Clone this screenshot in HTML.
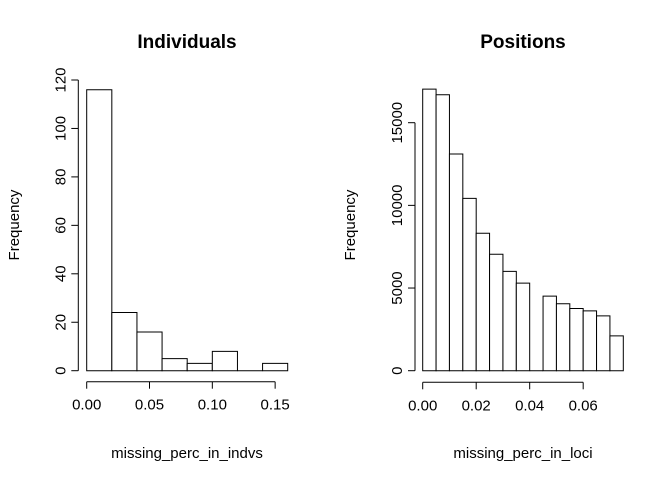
<!DOCTYPE html>
<html><head><meta charset="utf-8"><style>
body{margin:0;background:#fff}
svg{display:block;font-family:"Liberation Sans",Arial,sans-serif}
</style></head><body>
<svg id="c" width="672" height="480" viewBox="0 0 672 480">
<g id="p1"></g>
<g id="p2"></g>
</svg>
<script>
const indBinStart = 0, indBinWidth = 0.02;
const indCounts = [116, 24, 16, 5, 3, 8, 0, 3];
const indXTicks = [0, 0.05, 0.10, 0.15];
const indXTickLabels = ["0.00", "0.05", "0.10", "0.15"];
const indYTicks = [0, 20, 40, 60, 80, 100, 120];
const posBinStart = 0, posBinWidth = 0.005;
const posCounts = [17030, 16690, 13110, 10420, 8315, 7040, 6008, 5300, 0, 4510, 4046, 3763, 3621, 3318, 2104];
const posXTicks = [0, 0.02, 0.04, 0.06];
const posXTickLabels = ["0.00", "0.02", "0.04", "0.06"];
const posYTicks = [0, 5000, 10000, 15000];

const NS = "http://www.w3.org/2000/svg";
function mk(parent, tag, attrs, text) {
  const e = document.createElementNS(NS, tag);
  for (const k in attrs) e.setAttribute(k, attrs[k]);
  if (text !== undefined) e.textContent = text;
  parent.appendChild(e);
  return e;
}
function panel(g, cfg) {
  const x = v => cfg.x0 + (v - cfg.xmin) / (cfg.xmax - cfg.xmin) * (cfg.x1 - cfg.x0);
  const y = v => cfg.y0 - v / cfg.ymax * (cfg.y0 - cfg.y1);
  cfg.counts.forEach((c, i) => {
    const a = x(cfg.binStart + i * cfg.binWidth), b = x(cfg.binStart + (i + 1) * cfg.binWidth);
    const p = mk(g, "path", {d: `M${a},${y(0)}V${y(c)}H${b}V${y(0)}Z`, fill: "#fff", stroke: "#000", "stroke-width": 1});
    
    
  });
  const ax = cfg.axisY;
  const xa = mk(g, "g", {});
  
  
  mk(xa, "line", {x1: x(cfg.xTicks[0]), x2: x(cfg.xTicks[cfg.xTicks.length - 1]), y1: ax, y2: ax, stroke: "#000"});
  cfg.xTicks.forEach((t, i) => {
    mk(xa, "line", {x1: x(t), x2: x(t), y1: ax, y2: ax + 7, stroke: "#000"});
    const l = mk(xa, "text", {x: x(t), y: ax + 28, "text-anchor": "middle", "font-size": 15}, cfg.xLabels[i]);
    
    
  });
  const ya = mk(g, "g", {});
  
  
  const axx = cfg.axisX;
  mk(ya, "line", {x1: axx, x2: axx, y1: y(cfg.yTicks[0]), y2: y(cfg.yTicks[cfg.yTicks.length - 1]), stroke: "#000"});
  cfg.yTicks.forEach(t => {
    mk(ya, "line", {x1: axx, x2: axx - 7, y1: y(t), y2: y(t), stroke: "#000"});
    const l = mk(ya, "text", {x: 0, y: 0, "text-anchor": "middle", "font-size": 15, transform: `translate(${axx - 13},${y(t)}) rotate(-90)`}, String(t));
    
    
  });
  const tt = mk(g, "text", {x: cfg.titleX, y: 48, "text-anchor": "middle", "font-size": 19, "font-weight": "bold"}, cfg.title);
  
  
  const xl = mk(g, "text", {x: cfg.titleX, y: 458, "text-anchor": "middle", "font-size": 15}, cfg.xTitle);
  
  
  const yl = mk(g, "text", {x: 0, y: 0, "text-anchor": "middle", "font-size": 15, transform: `translate(${cfg.yTitleX},225) rotate(-90)`}, "Frequency");
  
  
}
panel(document.getElementById("p1"), {
  x0: 86.7, x1: 287.7, xmin: 0, xmax: 0.16, y0: 370.7, y1: 80, ymax: 120,
  counts: indCounts, binStart: indBinStart, binWidth: indBinWidth,
  xTicks: indXTicks, xLabels: indXTickLabels, yTicks: indYTicks,
  axisY: 381.7, axisX: 78.3, title: "Individuals", titleX: 187,
  xTitle: "missing_perc_in_indvs", yTitleX: 19
});
panel(document.getElementById("p2"), {
  x0: 422.7, x1: 623.3, xmin: 0, xmax: 0.075, y0: 370.7, y1: 122.7, ymax: 15000,
  counts: posCounts, binStart: posBinStart, binWidth: posBinWidth,
  xTicks: posXTicks, xLabels: posXTickLabels, yTicks: posYTicks,
  axisY: 382.3, axisX: 415, title: "Positions", titleX: 523,
  xTitle: "missing_perc_in_loci", yTitleX: 355
});
</script>
</body></html>
